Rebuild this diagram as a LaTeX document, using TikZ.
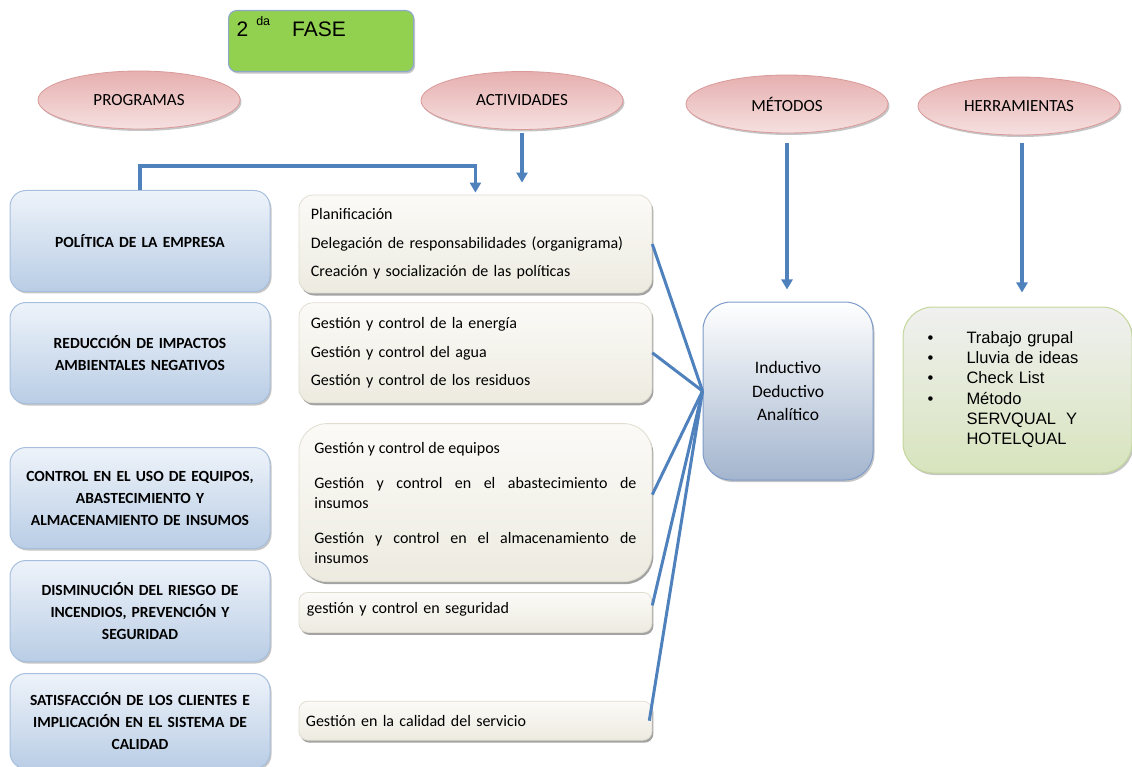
\documentclass[tikz,border=0pt]{standalone}
\usepackage{fontspec}
\setmainfont{Carlito}
\newfontfamily\arialfont{Liberation Sans}
\usepackage{tikz}
\usetikzlibrary{
  arrows.meta,
  positioning,
  shapes.geometric,
  shadows
}
\definecolor{azullinea}{HTML}{4F81BD}
\definecolor{verdefase}{HTML}{92D050}
\definecolor{bordefase}{HTML}{8EA9C8}
\definecolor{rosaoscuro}{HTML}{E6AFAF}
\definecolor{rosaclaro}{HTML}{F6E0E0}
\definecolor{bordeelipse}{HTML}{D99A99}
\definecolor{azulclaro}{HTML}{B9CDE5}
\definecolor{azulblanco}{HTML}{EEF3FA}
\definecolor{bordeazul}{HTML}{A7BFDE}
\definecolor{cremaclaro}{HTML}{FBFAF7}
\definecolor{crema}{HTML}{EDEBE0}
\definecolor{bordecrema}{HTML}{E0DDD0}
\definecolor{azulgris}{HTML}{A3B5CE}
\definecolor{bordemetodo}{HTML}{7E9BC8}
\definecolor{grisverde}{HTML}{F0F0F0}
\definecolor{verdeclaro}{HTML}{D7E4BD}
\definecolor{bordeverde}{HTML}{C3D69B}

\begin{document}
\begin{tikzpicture}[
            x=1pt, y=-1pt,
            font=\fontsize{16}{19}\selectfont,
            sombra/.style={drop shadow={shadow xshift=1.5pt, shadow yshift=-2pt, fill=black!45, opacity=0.5}},
            fase/.style={rectangle, rounded corners=8pt, draw=bordefase, line width=1.2pt, fill=verdefase, minimum width=185pt, text width=169pt, inner xsep=8pt, inner ysep=0pt, text height=26pt, text depth=35pt, align=left, font=\arialfont\fontsize{21}{24}\selectfont, sombra},
            elipse/.style={ellipse, minimum width=202pt, minimum height=58pt, inner sep=0pt, draw=bordeelipse, line width=0.8pt, top color=rosaoscuro, bottom color=rosaclaro, font=\fontsize{17}{19}\selectfont, sombra},
            programa/.style={rectangle, rounded corners=16pt, draw=bordeazul, line width=1pt, top color=azulblanco, bottom color=azulclaro, minimum width=260pt, minimum height=101pt, text width=250pt, align=center, font=\bfseries\fontsize{15.5}{22}\selectfont, sombra},
            actividad/.style={rectangle, rounded corners=14pt, draw=bordecrema, line width=0.8pt, top color=cremaclaro, bottom color=crema, minimum width=353pt, inner xsep=0pt, align=left, drop shadow={shadow xshift=1.5pt, shadow yshift=-2.5pt, fill=black!60, opacity=0.6}},
            metodo/.style={rectangle, rounded corners=28pt, draw=bordemetodo, line width=1pt, top color=white, bottom color=azulgris, minimum width=170pt, minimum height=178pt, align=center, font=\fontsize{17.5}{23.5}\selectfont, sombra},
            herramienta/.style={rectangle, rounded corners=30pt, draw=bordeverde, line width=1pt, top color=grisverde, bottom color=verdeclaro, minimum height=166pt, text width=180pt, inner xsep=24.5pt, align=left, font=\arialfont\fontsize{16.5}{20.2}\selectfont, sombra},
            flecha/.style={line width=3.4pt, draw=azullinea, -{Triangle[length=10pt, width=11pt]}},
            linea/.style={line width=3pt, draw=azullinea}
        ]
        \useasboundingbox (0,0) rectangle (1132,767);

        % Titulo
        \node (fase) [fase, anchor=north west] at (228,10) {2\hspace{8pt}\raisebox{11pt}{\fontsize{12.5}{12.5}\selectfont da}\hspace{22pt}FASE};

        % Elipses
        \node (prog) [elipse] at (139,100) {PROGRAMAS};
        \node (act) [elipse] at (522,100.5) {ACTIVIDADES};
        \node (met) [elipse] at (787,104) {MÉTODOS};
        \node (herr) [elipse] at (1019,106) {HERRAMIENTAS};

        % Programas
        \node (pol) [programa] at (140,241) {POLÍTICA DE LA EMPRESA};
        \node (red) [programa, below=10pt of pol] {REDUCCIÓN DE IMPACTOS\\AMBIENTALES NEGATIVOS};
        \node (ctrl) [programa, below=43pt of red] {CONTROL EN EL USO DE EQUIPOS,\\ABASTECIMIENTO Y\\ALMACENAMIENTO DE INSUMOS};
        \node (dism) [programa, below=11pt of ctrl] {DISMINUCIÓN DEL RIESGO DE\\INCENDIOS, PREVENCIÓN Y\\SEGURIDAD};
        \node (sat) [programa, below=11pt of dism, minimum height=95pt] {SATISFACCIÓN DE LOS CLIENTES E\\IMPLICACIÓN EN EL SISTEMA DE\\CALIDAD};

        % Actividades
        \node (act1) [actividad, right=28pt of pol, yshift=-3pt, minimum height=98pt, text width=329pt, font=\fontsize{16}{28.5}\selectfont] {Planificación\\Delegación de responsabilidades (organigrama)\\Creación y socialización de las políticas};
        \node (act2) [actividad, below=9pt of act1, minimum height=100pt, text width=329pt, font=\fontsize{16}{28.5}\selectfont] {Gestión y control de la energía\\Gestión y control del agua\\Gestión y control de los residuos};
        \node (act3) [actividad, below=20pt of act2, minimum height=158pt, rounded corners=28pt, text width=322pt, align=justify, font=\fontsize{16}{20}\selectfont] {Gestión y control de equipos\par\vspace{15pt}Gestión y control en el abastecimiento de\linebreak insumos\par\vspace{15pt}Gestión y control en el almacenamiento de\linebreak insumos};
        \node (act4) [actividad, below=10pt of act3, minimum height=40pt, rounded corners=9pt, text width=337pt, text height=11pt, text depth=9pt] {gestión y control en seguridad};
        \node (act5) [actividad, below=68pt of act4, minimum height=39pt, rounded corners=9pt, text width=339pt] {Gestión en la calidad del servicio};

        % Metodos y herramientas
        \node (met_box) [metodo] at (788,391) {Inductivo\\Deductivo\\Analítico};
        \node (herr_box) [herramienta] at (1017.5,390) {\begin{tabular}{@{}p{39pt}@{}l@{}}
            \textbullet & Trabajo grupal\\
            \textbullet & Lluvia de ideas\\
            \textbullet & Check List\\
            \textbullet & Método\\
             & SERVQUAL\hspace{10pt}Y\\
             & HOTELQUAL
          \end{tabular}};

        % Conexiones
        \draw [flecha, shorten >=2pt] (pol.north) -- ++(0,-24) -| (act1.north);
        \draw [flecha, shorten <=3pt, shorten >=12pt] (act.south) -- (act.south |- act1.north);
        \draw [flecha, shorten <=10pt, shorten >=12pt] (met.south) -- (met.south |- met_box.north);
        \draw [flecha, shorten <=8pt, shorten >=14pt] ([xshift=3pt]herr.south) -- ([xshift=3pt]herr.south |- herr_box.north);

        \draw [linea] (act1.east) -- (met_box.west);
        \draw [linea] (act2.east) -- (met_box.west);
        \draw [linea] ([yshift=8pt]act3.east) -- (met_box.west);
        \draw [linea] ([yshift=7pt]act4.east) -- (met_box.west);
        \draw [linea] ([xshift=-3pt]act5.east) -- (met_box.west);

    \end{tikzpicture}
\end{document}
